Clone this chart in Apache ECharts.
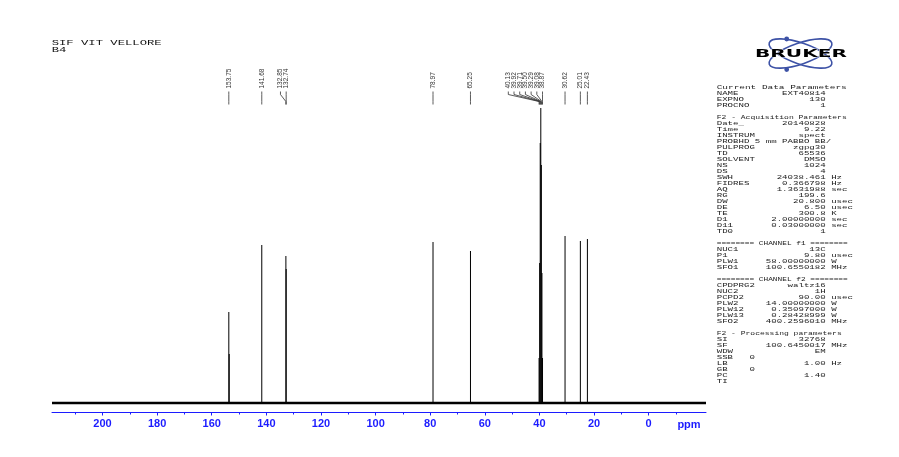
<!DOCTYPE html>
<html><head><meta charset="utf-8">
<script src="https://cdn.jsdelivr.net/npm/echarts@6/dist/echarts.min.js"></script>
<style>html,body{margin:0;padding:0;background:#fff}#c{width:899px;height:457px}</style>
</head><body><div id="c"></div>
<script>
// ---------- data ----------
const titleLines = ['SIF VIT VELLORE', 'B4'];
const peakPpm    = [153.75, 153.60, 141.68, 132.85, 132.74, 78.97, 65.25, 40.13, 39.92, 39.71, 39.50, 39.29, 39.08, 38.87, 30.62, 25.01, 22.43];
const peakHeight = [91,     49,     158,    147,    134,    161,   152,   45,    140,   260,   295,   238,   130,   45,    167,   162,   164];
const labelPpm   = [153.75, 141.68, 132.85, 132.74, 78.97, 65.25, 40.13, 39.92, 39.71, 39.50, 39.29, 39.08, 38.87, 30.62, 25.01, 22.43];
const axisRange  = [-21, 218.5];
const majorTicks = [0, 20, 40, 60, 80, 100, 120, 140, 160, 180, 200];
const minorTicks = [-10, 10, 30, 50, 70, 90, 110, 130, 150, 170, 190, 210];
const axisUnit   = 'ppm';
const logoText   = 'BRUKER';
const paramRows = [
  {h:'Current Data Parameters', w:130},
  ['NAME','EXT40814'], ['EXPNO','130'], ['PROCNO','1'],
  '',
  {h:'F2 - Acquisition Parameters', w:130},
  ['Date_','20140828'], ['Time','9.22'], ['INSTRUM','spect'], ['PROBHD','5 mm PABBO BB/'],
  ['PULPROG','zgpg30'], ['TD','65536'], ['SOLVENT','DMSO'], ['NS','1024'], ['DS','4'],
  ['SWH','24038.461','Hz'], ['FIDRES','0.366798','Hz'], ['AQ','1.3631988','sec'], ['RG','199.6'],
  ['DW','20.800','usec'], ['DE','6.50','usec'], ['TE','300.8','K'], ['D1','2.00000000','sec'],
  ['D11','0.03000000','sec'], ['TD0','1'],
  '',
  {h:'======== CHANNEL f1 ========', w:131},
  ['NUC1','13C'], ['P1','9.80','usec'], ['PLW1','58.00000000','W'], ['SFO1','100.6550182','MHz'],
  '',
  {h:'======== CHANNEL f2 ========', w:131},
  ['CPDPRG2','waltz16'], ['NUC2','1H'], ['PCPD2','90.00','usec'], ['PLW2','14.00000000','W'],
  ['PLW12','0.35097000','W'], ['PLW13','0.28428999','W'], ['SFO2','400.2596010','MHz'],
  '',
  {h:'F2 - Processing parameters', w:125},
  ['SI','32768'], ['SF','100.6450017','MHz'], ['WDW','EM'], 'SSB   0', ['LB','1.00','Hz'],
  'GB    0', ['PC','1.40'], 'TI'
];

// ---------- chart ----------
const BLUE = '#1c1cff';
const chart = echarts.init(document.getElementById('c'));
const option = {
  animation: false,
  grid: {left: 52, right: 193, top: 100, bottom: 44.5},
  xAxis: [{
    type: 'value', inverse: true, min: axisRange[0], max: axisRange[1],
    axisLine: {show: true, onZero: false, lineStyle: {color: BLUE, width: 1}},
    axisTick: {show: true, customValues: majorTicks, length: 3, lineStyle: {color: BLUE}},
    axisLabel: {customValues: majorTicks, color: BLUE, fontWeight: 'bold', fontSize: 11,
                fontFamily: 'Liberation Sans', margin: 6},
    splitLine: {show: false}
  }, {
    type: 'value', inverse: true, min: axisRange[0], max: axisRange[1], position: 'bottom',
    axisLine: {show: false, onZero: false},
    axisTick: {show: true, customValues: minorTicks, length: 2, lineStyle: {color: BLUE}},
    axisLabel: {show: false}, splitLine: {show: false}
  }],
  yAxis: {type: 'value', min: -9.5, max: 303, show: false},
  series: [{
    type: 'line', xAxisIndex: 0, data: [[axisRange[1], 0], [axisRange[0], 0]],
    symbol: 'none', lineStyle: {color: '#000', width: 2.6}, silent: true
  }, {
    type: 'bar', xAxisIndex: 0, data: peakPpm.map((p, i) => [p, peakHeight[i]]),
    barWidth: 1, itemStyle: {color: '#000'}, silent: true
  }]
};
chart.setOption(option);

// ---------- annotations ----------
const ctx = document.createElement('canvas').getContext('2d');
function tw(str, font) { ctx.font = font; return ctx.measureText(str).width; }
function txt(x, y, s, font, opt) {
  opt = opt || {};
  return {
    type: 'text', x: x, y: y, rotation: opt.rot || 0, scaleX: opt.sx || 1, silent: true,
    style: {text: s, font: font, fill: opt.fill || '#000',
            align: opt.align || 'left', textAlign: opt.align || 'left',
            verticalAlign: 'middle', textVerticalAlign: 'middle',
            stroke: opt.stroke, lineWidth: opt.lw || 0}
  };
}
const els = [];

// title
const tFont = '8px "Liberation Mono"';
const tcw = tw('0', tFont);
titleLines.forEach((s, i) => els.push(txt(51.7, 42.6 + i * 7.4, s, tFont, {sx: 7.33 / tcw, fill: '#111'})));

// parameter panel
const pFont = '6px "Liberation Mono"';
const cw = tw('0', pFont);
const CHAR = 5.45;
paramRows.forEach((r, i) => {
  const y = 87 + i * 6.0;
  if (r === '') return;
  if (typeof r === 'string') { els.push(txt(716.7, y, r, pFont, {sx: CHAR / cw, fill: '#222'})); return; }
  if (r.h) { els.push(txt(716.7, y, r.h, pFont, {sx: r.w / tw(r.h, pFont), fill: '#222'})); return; }
  const lab = r[0], val = r[1], unit = r[2];
  const line = lab + val.padStart(Math.max(20 - lab.length, val.length + 1)) + (unit ? ' ' + unit : '');
  els.push(txt(716.7, y, line, pFont, {sx: CHAR / cw, fill: '#222'}));
});

// logo
const LOGO = '#3d52a6';
[0.33, -0.33].forEach(rot => els.push({
  type: 'ellipse', x: 800.5, y: 53.5, rotation: rot, silent: true,
  shape: {cx: 0, cy: 0, rx: 33, ry: 10.5},
  style: {fill: 'none', stroke: LOGO, lineWidth: 1.6}
}));
[[786.7, 39], [786.7, 69.5]].forEach(c => els.push({
  type: 'circle', silent: true, shape: {cx: c[0], cy: c[1], r: 2.4}, style: {fill: LOGO}
}));
const lFont = '900 10px "DejaVu Sans"';
els.push(txt(801, 54.5, logoText, lFont, {sx: 92 / tw(logoText, lFont), align: 'center',
                                          stroke: '#fff', lw: 0.6}));

// axis unit
els.push(txt(689, 425, axisUnit, 'bold 11px "Liberation Sans"', {fill: BLUE, align: 'center'}));

// peak labels with leaders
const X = v => chart.convertToPixel({xAxisIndex: 0}, v);
const items = labelPpm.map(p => ({p: p, x: X(p)})).sort((a, b) => a.x - b.x);
const GAP = 5.7;
for (let i = items.length - 1; i >= 0; i--) {
  items[i].lx = (i === items.length - 1) ? items[i].x : Math.min(items[i].x, items[i + 1].lx - GAP);
}
const plFont = '6.5px "Liberation Sans"';
items.forEach(it => {
  els.push(txt(it.lx, 88.5, it.p.toFixed(2), plFont, {rot: Math.PI / 2, fill: '#333', sx: 1}));
  els.push({
    type: 'polyline', silent: true,
    shape: {points: [[it.lx, 91.5], [it.lx, 94.5], [it.x, 101.5], [it.x, 104.5]]},
    style: {fill: 'none', stroke: '#333', lineWidth: 0.8}
  });
});

chart.setOption({graphic: {elements: els}});
</script></body></html>
